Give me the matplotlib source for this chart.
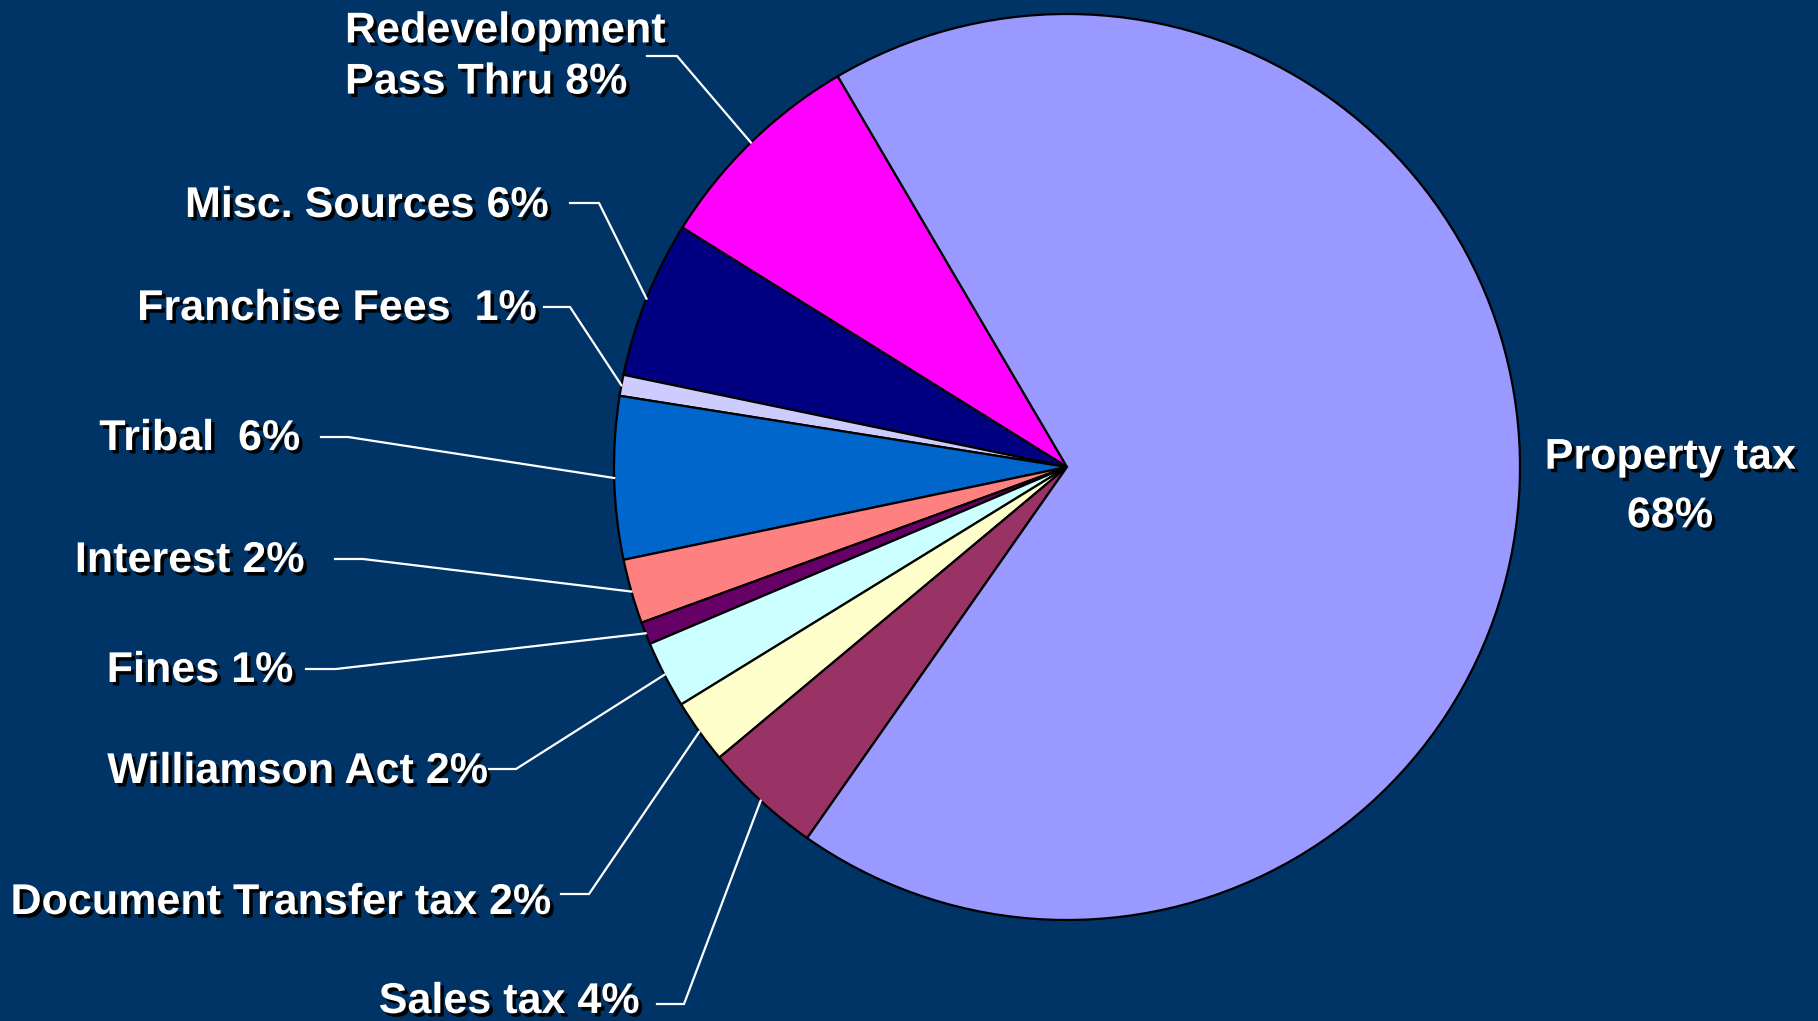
'''
Revenue sources pie chart, labels with elbow leader lines.
'''
import numpy as np
import matplotlib
matplotlib.use('Agg')
import matplotlib.pyplot as plt
import matplotlib.patheffects as pe

# data (counterclockwise from the top-left edge of Property tax)
sources = ['Redevelopment\nPass Thru 8%', 'Misc. Sources 6%', 'Franchise Fees  1%',
           'Tribal  6%', 'Interest 2%', 'Fines 1%', 'Williamson Act 2%',
           'Document Transfer tax 2%', 'Sales tax 4%', 'Property tax\n68%']
shares = [7.7, 5.6, 0.75, 5.8, 2.3, 0.8, 2.4, 2.3, 4.2, 68.2]
colors = ['#FF00FF', '#000080', '#CCCCFF', '#0066CC', '#FF8080',
          '#660066', '#CCFFFF', '#FFFFCC', '#993366', '#9999FF']

W, H = 1818, 1021
bg = '#003366'
cx, cy, r = 1067, H - 467, 453

# label layout in pixels from top-left:
# (text x, text y, ha, linespacing, line x0, line x1, line y)
layout = [
    (345, 57, 'left', 1.36, 647, 677, 56),
    (548, 206, 'right', 1.2, 570, 599, 203),
    (536, 309, 'right', 1.2, 544, 570, 307),
    (300, 439, 'right', 1.2, 321, 348, 437),
    (304, 561, 'right', 1.2, 335, 363, 559),
    (293, 671, 'right', 1.2, 306, 336, 669),
    (487, 772, 'right', 1.2, 489, 516, 769),
    (550, 903, 'right', 1.2, 561, 589, 894),
    (639, 1002, 'right', 1.2, 657, 684, 1004),
    (1670, 487, 'center', 1.6, None, None, None),
]

fig = plt.figure(figsize=(W / 100, H / 100), dpi=100, facecolor=bg)
ax = fig.add_axes([0, 0, 1, 1])
ax.set_facecolor(bg)

wedges, _ = ax.pie(shares, colors=colors, startangle=120.4, counterclock=True,
                   center=(cx, cy), radius=r,
                   wedgeprops=dict(edgecolor='black', linewidth=1.6))
ax.set_xlim(0, W)
ax.set_ylim(0, H)
ax.set_aspect('equal')
ax.axis('off')

shadow = [pe.withSimplePatchShadow(offset=(2.5, -2.5), shadow_rgbFace='black', alpha=1.0)]

for w, lab, (tx, ty, ha, ls, x0, x1, ly) in zip(wedges, sources, layout):
    ax.text(tx, H - ty, lab, ha=ha, va='center', color='white', fontsize=31,
            fontweight='bold', family='Liberation Sans', linespacing=ls,
            multialignment='center' if ha == 'center' else 'left',
            path_effects=shadow)
    if x0 is None:
        continue
    ang = np.deg2rad((w.theta1 + w.theta2) / 2)
    ex, ey = cx + r * np.cos(ang), cy + r * np.sin(ang)
    ax.plot([x0, x1, ex], [H - ly, H - ly, ey], color='white', lw=1.6,
            solid_joinstyle='miter')

plt.savefig('out.png', dpi=100, facecolor=bg)
